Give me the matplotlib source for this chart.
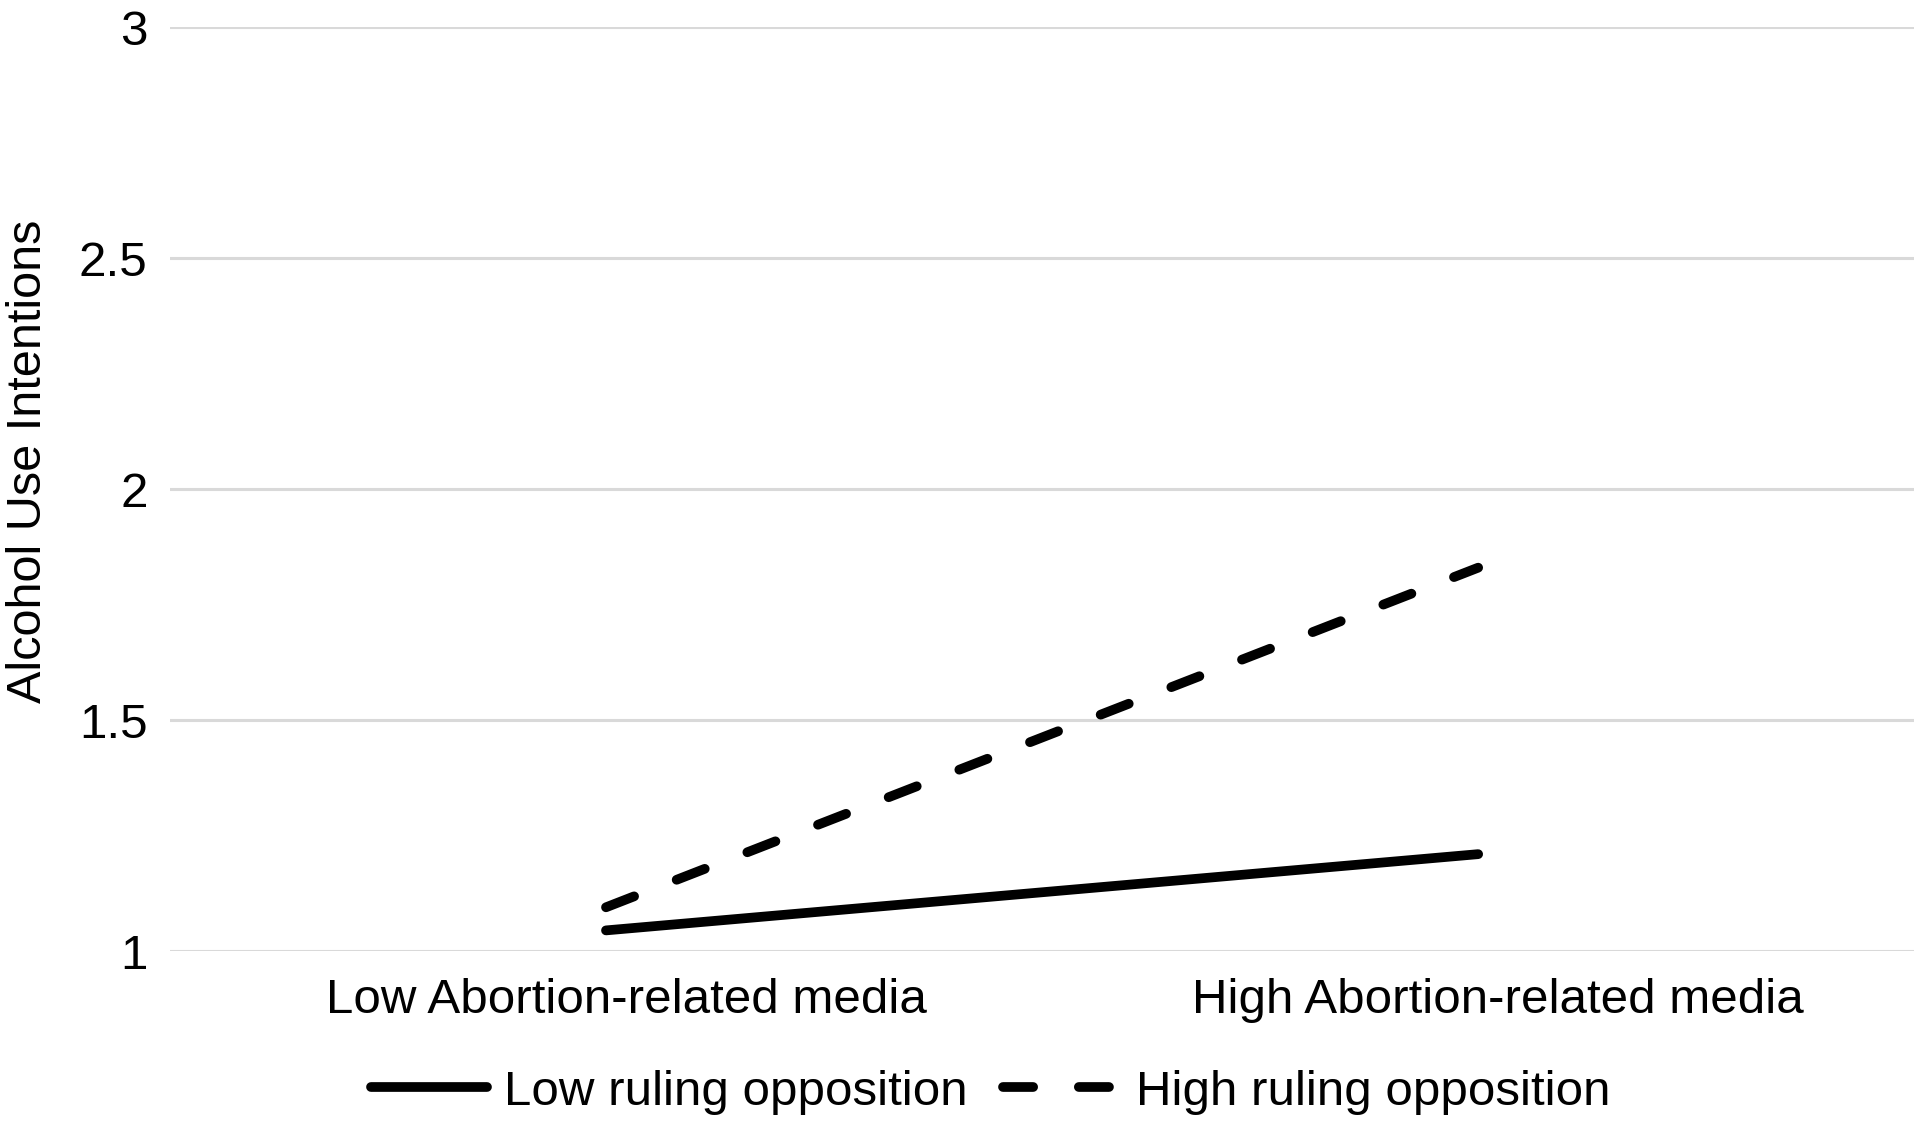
import matplotlib.pyplot as plt
import matplotlib.transforms as mtransforms
from matplotlib.lines import Line2D

plt.rcParams['font.family'] = ['Liberation Sans', 'DejaVu Sans']

categories = ['Low Abortion-related media', 'High Abortion-related media']
low_opp = [1.045, 1.21]
high_opp = [1.095, 1.83]
series_names = ['Low ruling opposition', 'High ruling opposition']
yticks = [1, 1.5, 2, 2.5, 3]
ytick_labels = ['1', '1.5', '2', '2.5', '3']

fig = plt.figure(figsize=(19.2, 11.27), dpi=100)
ax = fig.add_axes([0.0885, 0.156, 0.9085, 0.82])

x = list(range(len(categories)))
lw = 7
dash = (3.1, 4.7)
ax.plot(x, low_opp, color='black', lw=lw, solid_capstyle='round', zorder=3)
ax.plot(x, high_opp, color='black', lw=lw, linestyle=(0, dash), dash_capstyle='round', zorder=3)

ax.set_xlim(-0.5, 1.5)
ax.set_ylim(1, 3)
ax.set_yticks(yticks)
ax.set_yticklabels(ytick_labels)
ax.set_xticks(x)
ax.set_xticklabels(categories)
ax.tick_params(axis='both', length=0, labelsize=35.5, colors='black')
ax.tick_params(axis='x', pad=19)
ax.tick_params(axis='y', pad=16)
ax.yaxis.grid(True, color='#d9d9d9', lw=2.2)
ax.set_axisbelow(True)
for s in ax.spines.values():
    s.set_visible(False)

# category labels sit a bit right of the data points in the original
shift = mtransforms.ScaledTranslation(0.2, 0, fig.dpi_scale_trans)
for lab in ax.get_xticklabels():
    lab.set_transform(lab.get_transform() + shift)

ax.set_ylabel('Alcohol Use Intentions', fontsize=35)
ax.yaxis.set_label_coords(-0.068, 0.53)

handles = [
    Line2D([], [], color='black', lw=lw, solid_capstyle='round'),
    Line2D([], [], color='black', lw=lw, linestyle=(0, dash), dash_capstyle='round'),
]
fig.legend(handles, series_names, loc='center', bbox_to_anchor=(0.516, 0.031),
           ncol=2, frameon=False, fontsize=35.5, handlelength=2.35,
           handletextpad=0.35, columnspacing=0.7)

fig.savefig('out.png')
